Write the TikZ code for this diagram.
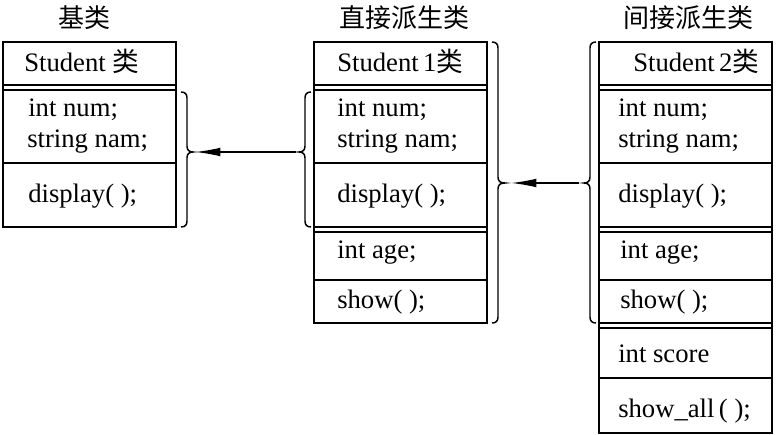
\documentclass[tikz,border=0pt]{standalone}
\usepackage{fontspec}
\setmainfont{Liberation Serif}
\newfontfamily\cjk{Noto Sans CJK SC}
\usetikzlibrary{arrows.meta}

\begin{document}
\begin{tikzpicture}[x=0.75pt,y=0.75pt,yscale=-1,xscale=1]
\useasboundingbox (0,0) rectangle (776,435);
\tikzset{cell/.style={line width=1.1pt},
  txt/.style={anchor=base west,inner sep=0pt,font=\fontsize{20}{24}\selectfont},
  ttl/.style={inner sep=0pt,font=\cjk\fontsize{19.5}{24}\selectfont},
  inherit/.style={line width=1.1pt,-{Latex[length=19pt,width=6.5pt]}}}

%Shape: Rectangle [base class]
\draw[cell] (3,42) rectangle (176,227);
\draw[cell] (3,85) -- (176,85);
\draw[cell] (3,90) -- (176,90);
\draw[cell] (3,163) -- (176,163);
%Shape: Rectangle [direct derived class]
\draw[cell] (314,42) rectangle (487,323);
\draw[cell] (314,85) -- (487,85);
\draw[cell] (314,90) -- (487,90);
\draw[cell] (314,163) -- (487,163);
\draw[cell] (314,227) -- (487,227);
\draw[cell] (314,232) -- (487,232);
\draw[cell] (314,280) -- (487,280);
%Shape: Rectangle [indirect derived class]
\draw[cell] (599,42) rectangle (772,433);
\draw[cell] (599,85) -- (772,85);
\draw[cell] (599,90) -- (772,90);
\draw[cell] (599,163) -- (772,163);
\draw[cell] (599,227) -- (772,227);
\draw[cell] (599,232) -- (772,232);
\draw[cell] (599,280) -- (772,280);
\draw[cell] (599,323) -- (772,323);
\draw[cell] (599,328) -- (772,328);
\draw[cell] (599,378) -- (772,378);

%Shape: Brace [right of base class]
\draw[cell] (181,92) .. controls (185,92) and (187,94) .. (187,98) -- (187,146) .. controls (187,150) and (189,152) .. (193,152) .. controls (189,152) and (187,154) .. (187,158) -- (187,221) .. controls (187,225) and (185,227) .. (181,227) ;
\coordinate (b1tip) at (193,152);
%Shape: Brace [left of direct derived class]
\draw[cell] (311,92) .. controls (307,92) and (305,94) .. (305,98) -- (305,146) .. controls (305,150) and (303,152) .. (299,152) .. controls (303,152) and (305,154) .. (305,158) -- (305,221) .. controls (305,225) and (307,227) .. (311,227) ;
\coordinate (b2ltip) at (299,152);
%Shape: Brace [right of direct derived class]
\draw[cell] (492,42) .. controls (496,42) and (498,44) .. (498,48) -- (498,177) .. controls (498,181) and (500,183) .. (505,183) .. controls (500,183) and (498,185) .. (498,189) -- (498,317) .. controls (498,321) and (496,323) .. (492,323) ;
\coordinate (b2rtip) at (505,183);
%Shape: Brace [left of indirect derived class]
\draw[cell] (596,42) .. controls (592,42) and (590,44) .. (590,48) -- (590,177) .. controls (590,181) and (588,183) .. (584,183) .. controls (588,183) and (590,185) .. (590,189) -- (590,317) .. controls (590,321) and (592,323) .. (596,323) ;
\coordinate (b3tip) at (584,183);

%Straight Lines [inheritance]
\draw[inherit, shorten <=2pt, shorten >=1.5pt] (b2ltip) -- (b1tip);
\draw[inherit, shorten <=3.75pt, shorten >=4.5pt] (b3tip) -- (b2rtip);

% Text Node
\node[ttl] (t1) at (85,18) {基类};
\node[ttl] (t2) at (404,18) {直接派生类};
\node[ttl] (t3) at (688,18) {间接派生类};
% Text Node
\node[txt] (b1name) at (24,72) {Student {\cjk 类}};
\node[txt] (b1num) at (28,117) {int num;};
\node[txt] (b1nam) at (27,147) {string nam;};
\node[txt] (b1disp) at (28,203) {display( );};
% Text Node
\node[txt] (b2name) at (337,72) {Student\,1{\cjk 类}};
\node[txt] (b2num) at (337,117) {int num;};
\node[txt] (b2nam) at (337,148) {string nam;};
\node[txt] (b2disp) at (337,203) {display( );};
\node[txt] (b2age) at (337,258) {int age;};
\node[txt] (b2show) at (337,308) {show( );};
% Text Node
\node[txt] (b3name) at (633,72) {Student\,2{\cjk 类}};
\node[txt] (b3num) at (618,117) {int num;};
\node[txt] (b3nam) at (618,148) {string nam;};
\node[txt] (b3disp) at (618,203) {display( );};
\node[txt] (b3age) at (620,258) {int age;};
\node[txt] (b3show) at (620,308) {show( );};
\node[txt] (b3score) at (618,362) {int score};
\node[txt] (b3all) at (618,417) {show\_all\,( );};

\end{tikzpicture}
\end{document}
